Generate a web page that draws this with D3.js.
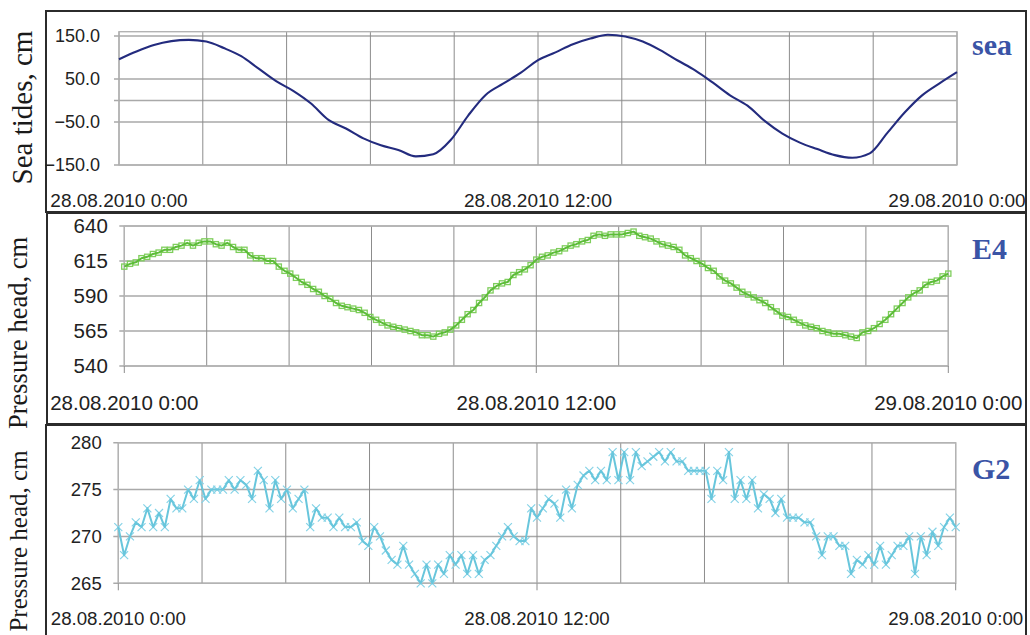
<!DOCTYPE html>
<html>
<head>
<meta charset="utf-8">
<script src="https://cdn.jsdelivr.net/npm/d3@7"></script>
<style>
  body { margin: 0; background: #fff; }
  svg { display: block; }
</style>
</head>
<body>
<svg id="chart" width="1030" height="635"></svg>
<script>
// Time span of the record: 28.08.2010 0:00 to 29.08.2010 0:00
const startTime = new Date(2010, 7, 28, 0, 0);
const endTime = new Date(2010, 7, 29, 0, 0);
const seaStepMinutes = 30;   // sea level sampled every 30 min
const wellStepMinutes = 10;  // piezometers sampled every 10 min

// Sea tides, cm
const seaTides = [96, 114, 129, 138, 141, 137, 122, 103, 74, 45, 22, -7, -45, -65, -88, -104,
  -115, -130, -125, -92, -35, 13, 39, 64, 94, 112, 131, 144, 153, 149, 137, 117, 93, 70, 42,
  12, -12, -48, -77, -98, -113, -127, -133, -123, -76, -28, 12, 40, 66];

// Well E4 pressure head, cm
const e4Head = [611, 613, 614, 617, 618, 620, 621, 623, 623, 625, 626, 628, 626, 628, 629, 629,
  627, 626, 628, 625, 623, 623, 619, 617, 617, 615, 615, 611, 608, 606, 603, 600, 598, 595, 593,
  590, 588, 585, 583, 582, 581, 580, 578, 575, 573, 571, 569, 568, 567, 566, 565, 564, 562, 562,
  561, 563, 564, 566, 569, 573, 577, 580, 585, 589, 594, 597, 599, 600, 605, 607, 609, 612, 616,
  618, 619, 621, 622, 624, 626, 627, 629, 630, 633, 634, 633, 634, 634, 634, 635, 636, 633, 632,
  631, 629, 627, 626, 625, 623, 619, 617, 615, 613, 610, 608, 604, 601, 599, 596, 593, 591, 589,
  587, 585, 582, 579, 576, 575, 573, 571, 569, 568, 567, 565, 564, 563, 563, 562, 561, 560, 564,
  565, 567, 570, 573, 577, 581, 585, 589, 592, 594, 598, 600, 601, 604, 606];

// Well G2 pressure head, cm
const g2Head = [271, 268, 270, 271.5, 271, 273, 271, 272.5, 271, 274, 273, 273, 275, 274, 276,
  274, 275, 275, 275, 276, 275, 276, 275.5, 274, 277, 276, 273, 276, 274, 275, 273, 274, 275, 271,
  273, 272, 272, 271, 272, 271, 271, 271.5, 269.5, 269, 271, 270, 268.5, 267.5, 267, 269, 267, 266,
  265, 267, 265, 267, 266, 268, 267, 268, 266, 268, 266, 267.5, 268, 269, 270, 271, 270, 269.5,
  269.5, 273, 272, 273, 274, 273.5, 272, 275, 273, 275.5, 276.5, 277, 276, 277, 276, 279, 276, 279,
  276, 279, 277.5, 278, 278.5, 279, 278, 279, 278, 278, 277, 277, 277, 277, 274, 277, 276, 279, 274,
  276, 274, 276, 273, 274.5, 274, 272.5, 274, 272, 272, 272, 271.5, 271.5, 270, 268, 270, 270, 269,
  269, 266, 267.5, 267, 268, 267, 269, 267, 268, 269, 269, 270, 266, 270, 268, 270.5, 269, 271, 272,
  271];

const seaTicks = [150, 50, -50, -150];
const seaGridValues = [150, 50, 0, -50, -150];
const e4Ticks = [540, 565, 590, 615, 640];
const g2Ticks = [265, 270, 275, 280];
const dateTickTimes = [startTime, new Date(2010, 7, 28, 12, 0), endTime];
const dateTickLabels = ["28.08.2010 0:00", "28.08.2010 12:00", "29.08.2010 0:00"];
const seriesNames = ["sea", "E4", "G2"];
const axisTitles = ["Sea tides, cm", "Pressure head, cm", "Pressure head, cm"];

const svg = d3.select("#chart");
svg.append("rect").attr("width", 1030).attr("height", 635).attr("fill", "#fff");

const panels = [
  {
    name: seriesNames[0], title: axisTitles[0], values: seaTides, step: seaStepMinutes,
    domain: [-150, 160], ticks: seaTicks, grid: seaGridValues, fmt: d3.format(".1f"),
    frame: [46, 11, 980, 201], xr: [119, 957], yr: [165, 31.7],
    tickFont: 18, tickGap: 19, dateFont: 19, dateY: 206.5, bottomTicks: false,
    titleFont: 29, titleX: 32, titleY: 107.5, nameY: 55,
    color: "#232b7e", lineWidth: 2.1, marker: null
  },
  {
    name: seriesNames[1], title: axisTitles[1], values: e4Head, step: wellStepMinutes,
    domain: [540, 640], ticks: e4Ticks, grid: e4Ticks, fmt: d3.format("d"),
    frame: [47, 213, 979, 211], xr: [124.3, 948.3], yr: [366, 226],
    tickFont: 20.5, tickGap: 16.5, dateFont: 20.5, dateY: 410, bottomTicks: true,
    titleFont: 26.5, titleX: 27, titleY: 333, nameY: 259,
    color: "#5cbc38", lineWidth: 2, marker: "square", markerColor: "#7fce5c"
  },
  {
    name: seriesNames[2], title: axisTitles[2], values: g2Head, step: wellStepMinutes,
    domain: [265, 280], ticks: g2Ticks, grid: g2Ticks, fmt: d3.format("d"),
    frame: [46, 425, 980, 215], xr: [118.3, 955.7], yr: [583.3, 442.7],
    tickFont: 18.5, tickGap: 16.6, dateFont: 18.7, dateY: 625, bottomTicks: true,
    titleFont: 25, titleX: 27, titleY: 541, nameY: 479,
    color: "#68c6dc", lineWidth: 2, marker: "x", markerColor: "#86d3e7"
  }
];

const gridTimes = d3.range(11).map(i => d3.timeMinute.offset(startTime, i * 144));

panels.forEach(p => {
  const g = svg.append("g");
  const x = d3.scaleTime().domain([startTime, endTime]).range(p.xr);
  const y = d3.scaleLinear().domain(p.domain).range(p.yr);
  const [px0, px1] = p.xr;
  const [pyB, pyT] = p.yr;

  // panel frame
  g.append("rect")
    .attr("x", p.frame[0]).attr("y", p.frame[1])
    .attr("width", p.frame[2]).attr("height", p.frame[3])
    .attr("fill", "none").attr("stroke", "#2b2b2b").attr("stroke-width", 2);

  // horizontal grid with small ticks on the left
  g.selectAll(".hgrid").data(p.grid).join("line")
    .attr("x1", px0 - 5).attr("x2", px1)
    .attr("y1", d => y(d)).attr("y2", d => y(d))
    .attr("stroke", "#a9a9a9").attr("stroke-width", 1.4);

  // vertical grid
  g.selectAll(".vgrid").data(gridTimes).join("line")
    .attr("x1", d => x(d)).attr("x2", d => x(d))
    .attr("y1", pyT).attr("y2", pyB)
    .attr("stroke", "#8c8c8c").attr("stroke-width", 1);

  // plot area outline
  g.append("rect")
    .attr("x", px0).attr("y", pyT).attr("width", px1 - px0).attr("height", pyB - pyT)
    .attr("fill", "none").attr("stroke", "#b3b3b3").attr("stroke-width", 1.4);

  if (p.bottomTicks) {
    g.selectAll(".dtick").data(dateTickTimes).join("line")
      .attr("x1", d => x(d)).attr("x2", d => x(d))
      .attr("y1", pyB).attr("y2", pyB + 7)
      .attr("stroke", "#8c8c8c").attr("stroke-width", 1);
  }

  // y tick labels
  g.selectAll(".ytick").data(p.ticks).join("text")
    .attr("x", px0 - p.tickGap).attr("y", d => y(d))
    .attr("dy", "0.36em")
    .attr("text-anchor", "end")
    .attr("font-family", "'Liberation Sans', Arial, sans-serif")
    .attr("font-size", p.tickFont).attr("fill", "#222")
    .text(d => p.fmt(d));

  // date labels
  g.selectAll(".date").data(dateTickTimes).join("text")
    .attr("x", d => x(d)).attr("y", p.dateY)
    .attr("text-anchor", "middle")
    .attr("font-family", "'Liberation Sans', Arial, sans-serif")
    .attr("font-size", p.dateFont).attr("fill", "#222")
    .text((d, i) => dateTickLabels[i]);

  // series
  const pts = p.values.map((v, i) => ({ t: d3.timeMinute.offset(startTime, i * p.step), v }));
  const line = d3.line()
    .x(d => x(d.t)).y(d => y(d.v))
    .curve(p.marker ? d3.curveLinear : d3.curveMonotoneX);

  if (p.marker === "square") {
    g.selectAll(".mk").data(pts).join("rect")
      .attr("x", d => x(d.t) - 2.6).attr("y", d => y(d.v) - 2.6)
      .attr("width", 5.2).attr("height", 5.2)
      .attr("fill", "none").attr("stroke", p.markerColor).attr("stroke-width", 1.3);
  } else if (p.marker === "x") {
    g.selectAll(".mk").data(pts).join("path")
      .attr("transform", d => `translate(${x(d.t)},${y(d.v)})`)
      .attr("d", "M-4,-4L4,4M-4,4L4,-4")
      .attr("fill", "none").attr("stroke", p.markerColor).attr("stroke-width", 1.2);
  }

  g.append("path").datum(pts)
    .attr("d", line)
    .attr("fill", "none").attr("stroke", p.color)
    .attr("stroke-width", p.lineWidth).attr("stroke-linejoin", "round");

  // axis title
  g.append("text")
    .attr("transform", `translate(${p.titleX},${p.titleY}) rotate(-90)`)
    .attr("text-anchor", "middle")
    .attr("font-family", "'Liberation Serif', 'Times New Roman', serif")
    .attr("font-size", p.titleFont).attr("fill", "#1a1a1a")
    .text(p.title);

  // series name
  g.append("text")
    .attr("x", 972).attr("y", p.nameY)
    .attr("font-family", "'Liberation Serif', 'Times New Roman', serif")
    .attr("font-weight", "bold")
    .attr("font-size", 30).attr("fill", "#3a54a6")
    .text(p.name);
});
</script>
</body>
</html>
